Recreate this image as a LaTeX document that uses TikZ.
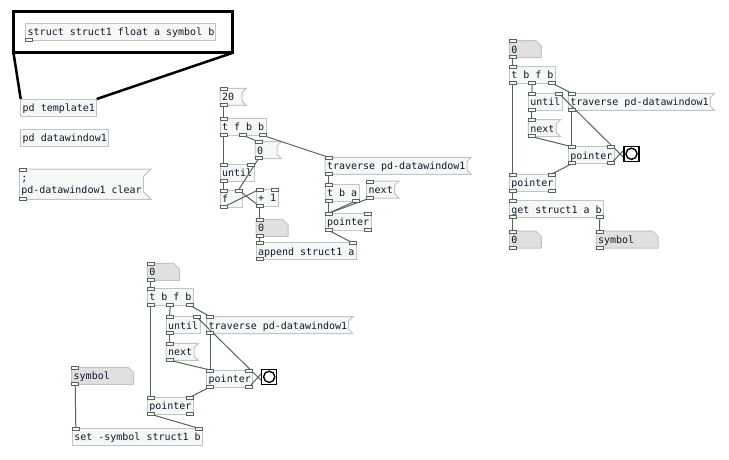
\documentclass[tikz,border=0pt]{standalone}
\usepackage{fontspec}
\newfontfamily\pdfont{DejaVu Sans Mono}
\usetikzlibrary{calc}
\pgfdeclarelayer{bg}
\pgfdeclarelayer{fg}
\pgfsetlayers{bg,main,fg}

\definecolor{boxline}{HTML}{C4C4C4}
\definecolor{boxfill}{HTML}{F6F8F8}
\definecolor{atomfill}{HTML}{E0E0E0}
\definecolor{wire}{HTML}{55655A}
\definecolor{ink}{HTML}{10182A}

\tikzset{
  pdtext/.style={font=\pdfont\fontsize{10}{12}\selectfont, text=ink,
    inner xsep=2pt, inner ysep=0pt, outer sep=0pt, minimum height=17pt,
    text height=9.5pt, text depth=1.5pt, anchor=north west},
  objbox/.style={draw=boxline, fill=boxfill, line width=1pt},
  msgbox/.style={draw=boxline, fill=boxfill, line width=1pt},
  atombox/.style={draw=boxline, fill=atomfill, line width=1pt},
  portbox/.style={draw=wire, fill=boxfill, line width=0.8pt},
  conn/.style={draw=wire, line width=1pt},
  bangnode/.style={minimum size=15pt, inner sep=0pt, outer sep=0pt, anchor=north west},
  bangframe/.style={draw=black, fill=white, line width=1.5pt},
  gopframe/.style={draw=black, line width=3pt, inner sep=0pt, outer sep=0pt, anchor=north west},
  gopline/.style={draw=black, line width=2.5pt},
}

% a box node: name, x, y, width, text (text set flush left, 2pt padding)
\newcommand\pdnode[6][]{%
  \pgfmathsetmacro\pdtw{#5-4}%
  \node[pdtext, minimum width=#5pt, #1] (#2) at (#3,#4) {\makebox[\pdtw pt][l]{#6}};}

% object box
\newcommand\pdobj[6][]{%
  \pdnode[#1]{#2}{#3}{#4}{#5}{#6}%
  \begin{pgfonlayer}{bg}
    \path[objbox] (#2.north west) rectangle (#2.south east);
  \end{pgfonlayer}}

% message box with the flag on its right side
\newcommand\pdmsg[6][]{%
  \pdnode[#1]{#2}{#3}{#4}{#5}{#6}%
  \begin{pgfonlayer}{bg}
    \path[msgbox] let \p1=(#2.north east), \p2=(#2.south east), \n1={(\y1-\y2)/4} in
      (#2.south west) -- (#2.north west) -- (\x1+\n1,\y1) -- (\x1,\y1-\n1)
      -- (\x2,\y2+\n1) -- (\x2+\n1,\y2) -- cycle;
  \end{pgfonlayer}}

% atom box with the cut top right corner
\newcommand\pdatom[6][]{%
  \pdnode[#1]{#2}{#3}{#4}{#5}{#6}%
  \begin{pgfonlayer}{bg}
    \path[atombox] let \p1=(#2.north east) in
      (#2.south west) -- (#2.north west) -- (\x1-5.5,\y1) -- (\x1,\y1-5.5)
      -- (#2.south east) -- cycle;
  \end{pgfonlayer}}

% bang: square with a circle
\newcommand\pdbang[3]{%
  \node[bangnode] (#1) at (#2,#3) {};
  \begin{pgfonlayer}{fg}
    \path[bangframe] (#1.north west) rectangle (#1.south east);
    \draw[black, line width=1.4pt] (#1.center) circle[radius=5.6pt];
  \end{pgfonlayer}}

% single inlet / outlet: node, index, count
\newcommand\pdin[3]{%
  \path[portbox] let \p1=(#1.north west), \p2=(#1.north east),
    \n1={(\x2-\x1-7)*(#2)/max(#3-1,1)} in
    (\x1+\n1,\y1+1) rectangle (\x1+\n1+7,\y1-2);}
\newcommand\pdout[3]{%
  \path[portbox] let \p1=(#1.south west), \p2=(#1.south east),
    \n1={(\x2-\x1-7)*(#2)/max(#3-1,1)} in
    (\x1+\n1,\y1+2) rectangle (\x1+\n1+7,\y1-1);}

% all ports of a box: node, inlets, outlets
\newcommand\pdio[3]{%
  \begin{pgfonlayer}{fg}
    \ifnum#2>0\relax\foreach \k in {1,...,#2}{\pdin{#1}{\k-1}{#2}}\fi
    \ifnum#3>0\relax\foreach \k in {1,...,#3}{\pdout{#1}{\k-1}{#3}}\fi
  \end{pgfonlayer}}

% connection: from node, outlet, outlets; to node, inlet, inlets
\newcommand\pdwire[6]{%
  \draw[conn] let \p1=(#1.south west), \p2=(#1.south east),
    \p3=(#4.north west), \p4=(#4.north east),
    \n1={(\x2-\x1-7)*(#2)/max(#3-1,1)}, \n2={(\x4-\x3-7)*(#5)/max(#6-1,1)} in
    (\x1+\n1+3.5,\y1) -- (\x3+\n2+3.5,\y3);}

\begin{document}
\begin{tikzpicture}[x=1pt, y=-1pt]
  \begin{pgfonlayer}{bg}
    \fill[white] (0,0) rectangle (729,459);
  \end{pgfonlayer}
  \path[use as bounding box] (0,0) rectangle (729,459);

  % --- template subpatch and its open canvas
  \node[gopframe, minimum width=219.3pt, minimum height=41.3pt] (gop) at (13.5,11.5) {};
  \pdobj{structdef}{25.7}{23}{190}{struct struct1 float a symbol b}
  \pdio{structdef}{0}{1}
  \pdobj{tpl}{20.7}{99}{76}{pd template1}
  \draw[gopline] (gop.south west) -- (tpl.north west);
  \draw[gopline] (gop.south east) -- (tpl.north east);
  \pdobj{dwin}{20.7}{129.3}{88}{pd datawindow1}
  \pdmsg[minimum height=30.3pt, text height=20.5pt, text depth=2.5pt]{clearmsg}{19.3}{169}{124}%
    {\begin{tabular}[b]{@{}l@{}};\\pd-datawindow1 clear\end{tabular}}
  \pdio{clearmsg}{1}{1}

  % --- appending scalars
  \pdmsg{m20}{220}{88.3}{22}{20}                  \pdio{m20}{1}{1}
  \pdobj{tfbb}{220}{118.3}{46}{t f b b}           \pdio{tfbb}{1}{3}
  \pdmsg{m0}{255}{141.7}{22}{0}                   \pdio{m0}{1}{1}
  \pdobj{until1}{220}{164}{34}{until}             \pdio{until1}{2}{1}
  \pdobj{f1}{220}{190}{22}{f}                     \pdio{f1}{2}{1}
  \pdobj{plus1}{256}{189.3}{22}{+ 1}              \pdio{plus1}{2}{1}
  \pdatom{num1}{256}{219.3}{32}{0}                \pdio{num1}{1}{1}
  \pdobj{append1}{256}{242.7}{100}{append struct1 a} \pdio{append1}{2}{1}
  \pdmsg{trav1}{325}{157.3}{142}{traverse pd-datawindow1} \pdio{trav1}{1}{1}
  \pdobj{tba}{325}{184}{34}{t b a}                \pdio{tba}{1}{2}
  \pdmsg{next1}{366.7}{181}{28}{next}             \pdio{next1}{1}{1}
  \pdobj{ptr1}{325}{213.3}{46}{pointer}           \pdio{ptr1}{2}{2}

  \pdwire{m20}{0}{1}{tfbb}{0}{1}
  \pdwire{tfbb}{0}{3}{until1}{0}{2}
  \pdwire{tfbb}{1}{3}{m0}{0}{1}
  \pdwire{tfbb}{2}{3}{trav1}{0}{1}
  \pdwire{m0}{0}{1}{f1}{1}{2}
  \pdwire{until1}{0}{1}{f1}{0}{2}
  \pdwire{f1}{0}{1}{plus1}{0}{2}
  \pdwire{plus1}{0}{1}{f1}{1}{2}
  \pdwire{plus1}{0}{1}{num1}{0}{1}
  \pdwire{num1}{0}{1}{append1}{0}{2}
  \pdwire{trav1}{0}{1}{tba}{0}{1}
  \pdwire{tba}{0}{2}{ptr1}{0}{2}
  \pdwire{tba}{1}{2}{ptr1}{0}{2}
  \pdwire{next1}{0}{1}{ptr1}{0}{2}
  \pdwire{ptr1}{0}{2}{append1}{1}{2}

  % --- reading the fields back
  \pdatom{top2}{509.3}{40.7}{32}{0}               \pdio{top2}{1}{1}
  \pdobj{tbfb2}{509.3}{66}{46}{t b f b}           \pdio{tbfb2}{1}{3}
  \pdobj{until2}{528.3}{93.3}{34}{until}          \pdio{until2}{2}{1}
  \pdmsg{trav2}{568.3}{93.3}{142}{traverse pd-datawindow1} \pdio{trav2}{1}{1}
  \pdmsg{next2}{528.3}{119.7}{28}{next}           \pdio{next2}{1}{1}
  \pdobj{ptrin2}{568.3}{146.7}{46}{pointer}       \pdio{ptrin2}{2}{2}
  \pdbang{bang2}{624}{146.3}
  \pdobj{ptrout2}{509.3}{174}{46}{pointer}        \pdio{ptrout2}{2}{2}
  \pdobj{get2}{509.3}{200.7}{94}{get struct1 a b} \pdio{get2}{1}{2}
  \pdatom{val2}{509.3}{231}{32}{0}                \pdio{val2}{1}{1}
  \pdatom{sym2}{596}{231}{62}{symbol}             \pdio{sym2}{1}{1}

  \pdwire{top2}{0}{1}{tbfb2}{0}{1}
  \pdwire{tbfb2}{0}{3}{ptrout2}{0}{2}
  \pdwire{tbfb2}{1}{3}{until2}{0}{2}
  \pdwire{tbfb2}{2}{3}{trav2}{0}{1}
  \pdwire{until2}{0}{1}{next2}{0}{1}
  \pdwire{trav2}{0}{1}{ptrin2}{0}{2}
  \pdwire{next2}{0}{1}{ptrin2}{0}{2}
  \pdwire{ptrin2}{1}{2}{bang2}{0}{1}
  \pdwire{bang2}{0}{1}{until2}{1}{2}
  \pdwire{ptrin2}{0}{2}{ptrout2}{1}{2}
  \pdwire{ptrout2}{0}{2}{get2}{0}{1}
  \pdwire{get2}{0}{2}{val2}{0}{1}
  \pdwire{get2}{1}{2}{sym2}{0}{1}

  % --- setting the symbol field
  \pdatom{top3}{147.3}{263.3}{32}{0}              \pdio{top3}{1}{1}
  \pdobj{tbfb3}{147.3}{288.3}{46}{t b f b}        \pdio{tbfb3}{1}{3}
  \pdobj{until3}{166}{316.7}{34}{until}           \pdio{until3}{2}{1}
  \pdmsg{trav3}{206.7}{316.7}{142}{traverse pd-datawindow1} \pdio{trav3}{1}{1}
  \pdmsg{next3}{166}{343.3}{28}{next}             \pdio{next3}{1}{1}
  \pdobj{ptrin3}{206.7}{370}{46}{pointer}         \pdio{ptrin3}{2}{2}
  \pdbang{bang3}{261.7}{369.3}
  \pdatom{sym3}{71.7}{367.3}{62}{symbol}          \pdio{sym3}{1}{1}
  \pdobj{ptrout3}{147.3}{397.3}{46}{pointer}      \pdio{ptrout3}{2}{2}
  \pdobj{set3}{72.3}{428.3}{130}{set -symbol struct1 b} \pdio{set3}{2}{0}

  \pdwire{top3}{0}{1}{tbfb3}{0}{1}
  \pdwire{tbfb3}{0}{3}{ptrout3}{0}{2}
  \pdwire{tbfb3}{1}{3}{until3}{0}{2}
  \pdwire{tbfb3}{2}{3}{trav3}{0}{1}
  \pdwire{until3}{0}{1}{next3}{0}{1}
  \pdwire{trav3}{0}{1}{ptrin3}{0}{2}
  \pdwire{next3}{0}{1}{ptrin3}{0}{2}
  \pdwire{ptrin3}{1}{2}{bang3}{0}{1}
  \pdwire{bang3}{0}{1}{until3}{1}{2}
  \pdwire{ptrin3}{0}{2}{ptrout3}{1}{2}
  \pdwire{ptrout3}{0}{2}{set3}{1}{2}
  \pdwire{sym3}{0}{1}{set3}{0}{2}
\end{tikzpicture}
\end{document}
